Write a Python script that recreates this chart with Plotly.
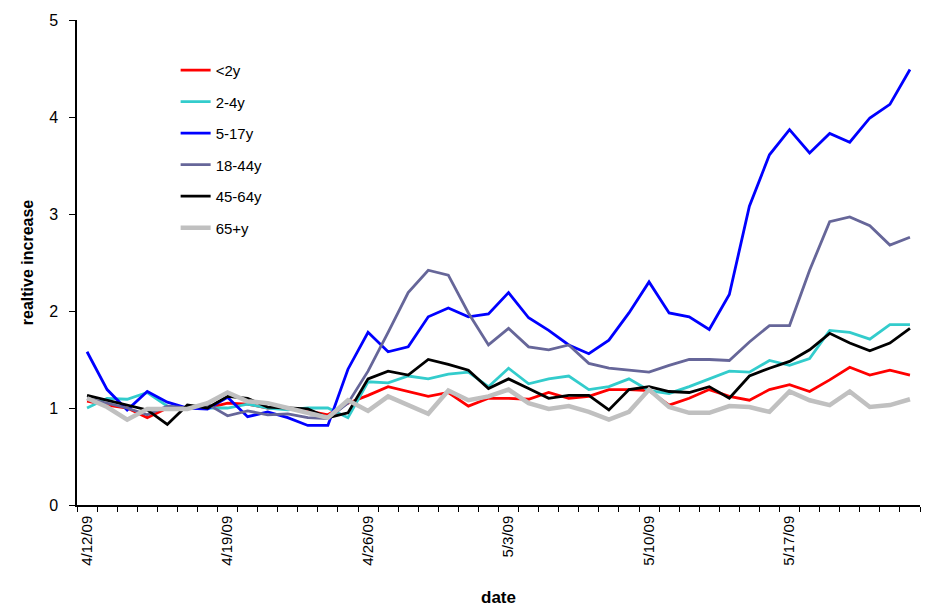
import plotly.graph_objects as go
import pandas as pd

dates = [d.strftime("%-m/%-d/%y") for d in pd.date_range("2009-04-12", "2009-05-23")]
tick_labels = ["4/12/09", "4/19/09", "4/26/09", "5/3/09", "5/10/09", "5/17/09"]

under2 = [1.07, 1.03, 1.0, 0.9, 1.0, 1.0, 1.0, 1.05, 1.04, 1.0, 1.0, 0.97, 0.93, 1.05, 1.13,
          1.22, 1.17, 1.12, 1.16, 1.02, 1.10, 1.10, 1.09, 1.16, 1.10, 1.12, 1.19, 1.19, 1.18,
          1.03, 1.10, 1.19, 1.12, 1.08, 1.19, 1.24, 1.17, 1.29, 1.42, 1.34, 1.39, 1.34]
age2_4 = [1.0, 1.10, 1.09, 1.16, 1.02, 1.0, 1.0, 1.0, 1.04, 1.0, 0.98, 1.0, 1.0, 0.90, 1.27,
          1.26, 1.33, 1.30, 1.35, 1.37, 1.22, 1.41, 1.25, 1.30, 1.33, 1.19, 1.22, 1.30, 1.18,
          1.15, 1.22, 1.30, 1.38, 1.37, 1.49, 1.44, 1.51, 1.80, 1.78, 1.71, 1.86, 1.86]
age5_17 = [1.58, 1.19, 0.98, 1.17, 1.06, 1.0, 0.99, 1.11, 0.91, 0.96, 0.9, 0.82, 0.82, 1.40, 1.78,
           1.58, 1.63, 1.94, 2.03, 1.94, 1.97, 2.19, 1.93, 1.80, 1.65, 1.56, 1.70, 1.98, 2.30,
           1.98, 1.94, 1.81, 2.17, 3.08, 3.61, 3.87, 3.63, 3.83, 3.74, 3.99, 4.13, 4.49]
age18_44 = [1.10, 1.05, 1.0, 0.93, 1.02, 1.0, 1.04, 0.92, 0.97, 0.93, 0.94, 0.90, 0.89, 1.05, 1.38,
            1.78, 2.19, 2.42, 2.37, 1.98, 1.65, 1.82, 1.63, 1.60, 1.65, 1.46, 1.41, 1.39, 1.37,
            1.44, 1.50, 1.50, 1.49, 1.68, 1.85, 1.85, 2.42, 2.92, 2.97, 2.88, 2.68, 2.76]
age45_64 = [1.13, 1.08, 1.03, 0.98, 0.83, 1.03, 1.0, 1.12, 1.10, 1.01, 1.0, 0.99, 0.90, 0.95, 1.30,
            1.38, 1.34, 1.50, 1.45, 1.39, 1.20, 1.30, 1.20, 1.10, 1.13, 1.13, 0.98, 1.19, 1.22,
            1.17, 1.16, 1.22, 1.10, 1.33, 1.41, 1.48, 1.60, 1.77, 1.67, 1.59, 1.67, 1.82]
age65 = [1.10, 1.01, 0.88, 0.99, 0.99, 0.99, 1.05, 1.16, 1.07, 1.05, 1.0, 0.95, 0.90, 1.08, 0.97,
         1.12, 1.03, 0.94, 1.18, 1.08, 1.12, 1.19, 1.05, 0.99, 1.02, 0.96, 0.88, 0.96, 1.19,
         1.01, 0.95, 0.95, 1.02, 1.01, 0.96, 1.17, 1.08, 1.03, 1.17, 1.01, 1.03, 1.09]

series_names = ["<2y", "2-4y", "5-17y", "18-44y", "45-64y", "65+y"]
series_values = [under2, age2_4, age5_17, age18_44, age45_64, age65]
colors = ["#FF0000", "#33CCCC", "#0000FF", "#666699", "#000000", "#C0C0C0"]
widths = [2.8, 2.8, 2.8, 2.8, 2.8, 4.5]

x_idx = list(range(len(dates)))
fig = go.Figure()
for name, vals, col, w in zip(series_names, series_values, colors, widths):
    fig.add_trace(go.Scatter(x=x_idx, y=vals, mode="lines", name=name,
                             line=dict(color=col, width=w), legendgroup=name))

label_dates = [pd.to_datetime(t, format="%m/%d/%y").strftime("%-m/%-d/%y") for t in tick_labels]
tickvals = [x_idx[dates.index(d)] for d in label_dates]

fig.update_layout(
    width=935, height=611,
    margin=dict(l=69, r=23, t=12, b=114),
    paper_bgcolor="white", plot_bgcolor="white",
    font=dict(family="Liberation Sans, Arial", color="black", size=15),
    showlegend=True,
    legend=dict(x=0.117, y=0.93, xanchor="left", yanchor="top",
                bgcolor="rgba(0,0,0,0)", font=dict(size=15),
                tracegroupgap=9),
    xaxis=dict(
        range=[-0.5, len(dates) - 0.5], automargin=False,
        tickmode="array", tickvals=tickvals, ticktext=tick_labels,
        tickangle=-90, ticks="", showline=True, linecolor="black", linewidth=1.5,
        showgrid=False, zeroline=False, tickfont=dict(size=15), ticklabelstandoff=3,
        minor=dict(ticks="outside", tick0=-0.5, dtick=1, ticklen=5, tickcolor="black", showgrid=False),
        title=dict(text="<b>date</b>", font=dict(size=17), standoff=26),
    ),
    yaxis=dict(
        range=[0, 5], dtick=1, ticks="outside", ticklen=6, tickcolor="black", automargin=False,
        showline=True, linecolor="black", linewidth=1.5, showgrid=False, zeroline=False,
        tickfont=dict(size=16), ticklabelstandoff=8,
        title=dict(text="<b>realtive increase</b>", font=dict(size=16), standoff=12),
    ),
)

fig.write_html("out.html")
